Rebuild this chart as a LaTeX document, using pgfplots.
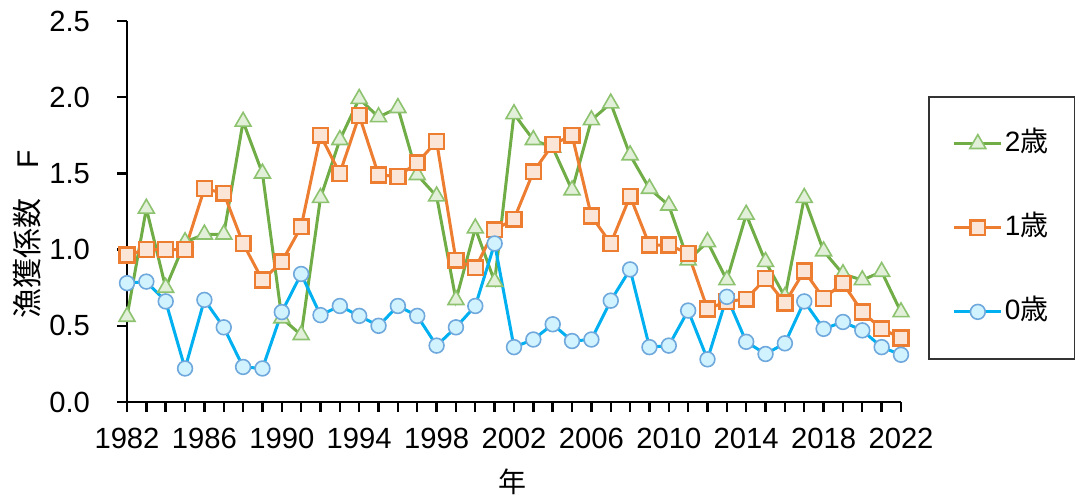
\documentclass[border=0pt]{standalone}
\usepackage{fontspec}
\setmainfont{Liberation Sans}
\newfontfamily\jp{Noto Sans CJK JP}
\usepackage{pgfplots}
\usepackage{pgfplotstable}
\pgfplotsset{compat=1.18}

\definecolor{gline}{HTML}{70AD47}
\definecolor{gfill}{HTML}{E2F0D9}
\definecolor{gedge}{HTML}{8DC26F}
\definecolor{oline}{HTML}{ED7D31}
\definecolor{ofill}{HTML}{FBE5D6}
\definecolor{bline}{HTML}{00B0F0}
\definecolor{bfill}{HTML}{D1F3FF}
\definecolor{bedge}{HTML}{6FA8DC}

% fishing mortality by age
\pgfplotstableread{
year  a2    a1    a0
1982  0.56  0.965 0.78
1983  1.27  1.00  0.79
1984  0.75  1.00  0.66
1985  1.05  1.00  0.22
1986  1.10  1.40  0.67
1987  1.10  1.37  0.49
1988  1.84  1.04  0.23
1989  1.50  0.80  0.22
1990  0.55  0.92  0.59
1991  0.44  1.15  0.84
1992  1.34  1.75  0.57
1993  1.72  1.50  0.63
1994  1.99  1.88  0.565
1995  1.87  1.49  0.50
1996  1.93  1.48  0.63
1997  1.49  1.57  0.565
1998  1.35  1.71  0.37
1999  0.67  0.93  0.49
2000  1.14  0.88  0.63
2001  0.79  1.13  1.04
2002  1.89  1.20  0.36
2003  1.72  1.51  0.41
2004  1.67  1.69  0.51
2005  1.39  1.75  0.40
2006  1.85  1.22  0.41
2007  1.96  1.04  0.665
2008  1.62  1.35  0.87
2009  1.40  1.03  0.36
2010  1.29  1.03  0.37
2011  0.93  0.975 0.60
2012  1.05  0.61  0.28
2013  0.80  0.66  0.69
2014  1.23  0.675 0.395
2015  0.92  0.81  0.315
2016  0.69  0.65  0.385
2017  1.34  0.86  0.66
2018  0.99  0.68  0.48
2019  0.84  0.78  0.525
2020  0.80  0.59  0.47
2021  0.855 0.48  0.36
2022  0.59  0.42  0.31
}\Fdata

\begin{document}
\begin{tikzpicture}
\useasboundingbox (0,0) rectangle (539pt,252pt);
\begin{axis}[
  at={(63.5pt,51pt)}, anchor=south west,
  scale only axis,
  width=387pt, height=190.5pt,
  xmin=1982, xmax=2022,
  ymin=0, ymax=2.5,
  axis x line*=bottom,
  axis y line*=left,
  tick align=outside,
  axis line style={line width=1.2pt, black},
  tick style={line width=1.2pt, black},
  major tick length=5pt,
  minor tick length=5pt,
  xtick={1982,1986,...,2022},
  minor xtick={1982,...,2022},
  ytick={0,0.5,...,2.5},
  xticklabel style={yshift=-4.5pt, /pgf/number format/1000 sep={}},
  yticklabel style={xshift=-10pt, /pgf/number format/.cd, fixed, fixed zerofill, precision=1},
  /pgf/number format/assume math mode=true,
  ticklabel style={font=\fontsize{14.6pt}{16pt}\selectfont},
  xlabel={\jp 年},
  ylabel={{\jp 漁獲係数　}F},
  xlabel style={at={(axis description cs:0.4987,-0.21)}, anchor=center, font=\fontsize{14pt}{16pt}\selectfont},
  ylabel style={at={(axis description cs:-0.1292,0.441)}, anchor=center, font=\fontsize{15pt}{17pt}\selectfont},
  clip=false,
  legend style={
    at={(axis description cs:1.0349,0.803)}, anchor=north west,
    draw=black!80, line width=0.8pt,
    inner xsep=12pt, inner ysep=15.5pt,
    row sep=26pt,
    font=\fontsize{14pt}{16pt}\selectfont,
    nodes={text height=11pt, text depth=3pt, inner sep=1pt},
    /tikz/every even column/.style={column sep=0pt},
  },
  legend cell align=left,
  legend image code/.code={
    \draw[mark repeat=2, mark phase=2, #1] plot coordinates {(0pt,0pt) (11.75pt,0pt) (23.5pt,0pt)};
  },
]
\addplot[color=gline, line width=1.5pt, mark=triangle*, mark size=4.6pt,
  mark options={fill=gfill, draw=gedge, line width=0.8pt}]
  table[x=year, y=a2] {\Fdata};
\addlegendentry{2{\jp 歳}}
\addplot[color=oline, line width=1.5pt, mark=square*, mark size=3.7pt,
  mark options={fill=ofill, draw=oline, line width=1.2pt}]
  table[x=year, y=a1] {\Fdata};
\addlegendentry{1{\jp 歳}}
\addplot[color=bline, line width=1.5pt, mark=*, mark size=3.7pt,
  mark options={fill=bfill, draw=bedge, line width=0.8pt}]
  table[x=year, y=a0] {\Fdata};
\addlegendentry{0{\jp 歳}}
\end{axis}
\end{tikzpicture}
\end{document}
